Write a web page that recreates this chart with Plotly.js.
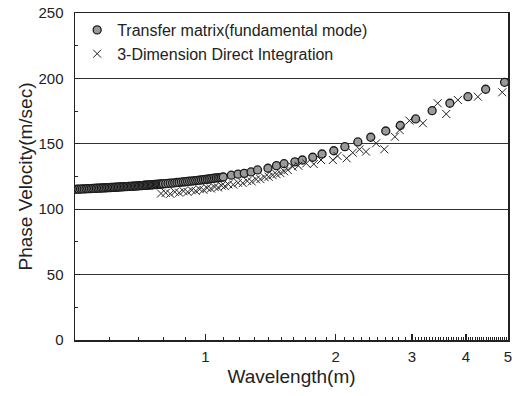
<!DOCTYPE html>
<html>
<head>
<meta charset="utf-8">
<script src="https://cdn.plot.ly/plotly-3.0.1.min.js"></script>
<style>html,body{margin:0;padding:0;background:#fff;}#chart{width:517px;height:396px;}</style>
</head>
<body>
<div id="chart"></div>
<script>
// Transfer matrix (fundamental mode)
var tmWavelength = [0.500,0.505,0.510,0.515,0.520,0.525,0.530,0.535,0.540,0.545,0.550,0.555,0.560,0.565,0.570,0.575,0.580,0.585,0.590,0.595,0.600,0.605,0.610,0.615,0.620,0.625,0.630,0.635,0.640,0.645,0.650,0.655,0.660,0.665,0.670,0.675,0.680,0.685,0.690,0.695,0.700,0.705,0.710,0.715,0.720,0.725,0.730,0.735,0.740,0.745,0.750,0.755,0.760,0.765,0.770,0.775,0.780,0.785,0.790,0.795,0.800,
  0.81,0.82,0.83,0.84,0.85,0.86,0.87,0.88,0.89,0.90,0.91,0.92,0.93,0.94,0.95,0.96,0.97,0.98,0.99,1.00,1.01,1.02,1.03,1.04,1.05,1.06,1.07,1.08,1.09,1.10,
  1.148,1.19,1.23,1.275,1.32,1.395,1.46,1.52,1.61,1.675,1.77,1.86,1.98,2.10,2.25,2.41,2.61,2.82,3.06,3.34,3.67,4.04,4.44,4.91];
var tmVelocity = [115.2,115.3,115.3,115.4,115.5,115.5,115.6,115.7,115.7,115.8,115.9,115.9,116.0,116.1,116.1,116.2,116.3,116.3,116.4,116.5,116.5,116.6,116.7,116.7,116.8,116.9,116.9,117.0,117.1,117.1,117.2,117.3,117.3,117.4,117.5,117.5,117.6,117.7,117.7,117.8,117.9,118.0,118.0,118.1,118.2,118.3,118.3,118.4,118.5,118.6,118.6,118.7,118.8,118.9,118.9,119.0,119.1,119.2,119.2,119.3,119.4,
  119.5,119.7,119.9,120.0,120.2,120.4,120.5,120.7,120.9,121.0,121.2,121.4,121.5,121.7,121.9,122.1,122.2,122.4,122.6,122.8,122.9,123.1,123.3,123.5,123.7,123.9,124.0,124.2,124.4,124.6,
  126.0,126.8,127.4,128.5,130.0,131.3,133.3,134.8,136.2,137.6,139.7,142.2,144.7,147.8,151.4,155.0,159.8,164.0,169.0,175.3,181.0,186.0,191.7,197.0];

// 3-Dimension Direct Integration
var diWavelength = [0.79,0.81,0.83,0.85,0.87,0.89,0.91,0.93,0.95,0.97,0.99,1.01,1.03,1.05,1.07,1.09,1.11,1.13,1.16,1.19,1.22,1.25,1.28,1.31,1.34,1.37,1.40,1.43,1.46,1.49,1.52,1.55,1.59,1.64,1.71,1.78,1.85,1.97,2.02,2.12,2.19,2.27,2.35,2.48,2.59,2.74,2.81,2.96,3.18,3.44,3.60,3.83,4.26,4.85];
var diVelocity = [112.0,112.5,111.8,113.2,112.6,113.8,113.2,114.5,114.0,115.3,114.8,116.2,115.8,117.0,116.6,118.0,117.6,119.0,118.8,120.2,120.0,121.5,121.2,122.8,123.0,124.5,124.8,126.0,126.8,127.6,129.0,130.0,132.5,133.2,135.0,134.5,137.6,137.6,140.7,138.9,143.2,145.8,144.0,150.4,145.8,155.4,160.5,167.7,165.7,181.0,172.8,183.5,186.0,189.4];

var xTickVals = [1,2,3,4,5];
var xTickText = ['1','2','3','4','5'];
var yTickVals = [0,50,100,150,200,250];

var minorX = [];
for (var v = 0.6; v < 3.0001; v += 0.1) { var r = Math.round(v*10)/10; if (xTickVals.indexOf(r) < 0) minorX.push(r); }
for (var w = 3.05; w < 5.0001; w += 0.05) { var q = Math.round(w*100)/100; if (xTickVals.indexOf(q) < 0) minorX.push(q); }

var font = 'Liberation Sans, Arial, sans-serif';

var traces = [
  {
    x: tmWavelength, y: tmVelocity, type: 'scatter', mode: 'markers',
    name: 'Transfer matrix(fundamental mode)',
    marker: {symbol: 'circle', size: 8, color: '#9a9a9a', line: {color: '#1a1a1a', width: 1.3}}
  },
  {
    x: diWavelength, y: diVelocity, type: 'scatter', mode: 'markers',
    name: '3-Dimension Direct Integration',
    marker: {symbol: 'x-thin-open', size: 8, color: '#222', line: {color: '#222', width: 1}}
  }
];

var layout = {
  width: 517, height: 396,
  margin: {l: 75, r: 9, t: 13, b: 56},
  paper_bgcolor: '#fff', plot_bgcolor: '#fff',
  font: {family: font, color: '#222', size: 15},
  showlegend: true,
  legend: {x: 0.005, y: 1.0, xanchor: 'left', yanchor: 'top', bgcolor: 'rgba(0,0,0,0)',
           font: {family: font, size: 16, color: '#222'}, itemwidth: 30, tracegroupgap: 0},
  xaxis: {
    type: 'log', range: [Math.log10(0.5), Math.log10(5)],
    tickmode: 'array', tickvals: xTickVals, ticktext: xTickText,
    ticks: 'inside', ticklen: 6, tickwidth: 1.2, tickcolor: '#222',
    showgrid: false, zeroline: false,
    showline: true, linecolor: '#222', linewidth: 1.5, mirror: true,
    tickfont: {family: font, size: 15, color: '#222'},
    ticklabelstandoff: 2,
    minor: {tickmode: 'array', tickvals: minorX, ticks: 'inside', ticklen: 3, tickcolor: '#222', tickwidth: 1, showgrid: false},
    title: {text: 'Wavelength(m)', font: {family: font, size: 19, color: '#222'}, standoff: 6}
  },
  yaxis: {
    range: [0, 250], tickmode: 'array', tickvals: yTickVals,
    ticks: 'inside', ticklen: 5, tickwidth: 1.2, tickcolor: '#222',
    showgrid: true, gridcolor: '#333', gridwidth: 1,
    zeroline: false,
    showline: true, linecolor: '#222', linewidth: 1.5, mirror: true,
    tickfont: {family: font, size: 15, color: '#222'},
    ticklabelstandoff: 7,
    minor: {dtick: 25, ticks: 'inside', ticklen: 3, tickcolor: '#222', tickwidth: 1, showgrid: false},
    title: {text: 'Phase Velocity(m/sec)', font: {family: font, size: 19, color: '#222'}, standoff: 1}
  }
};

Plotly.newPlot('chart', traces, layout, {displayModeBar: false, staticPlot: true});
</script>
</body>
</html>
